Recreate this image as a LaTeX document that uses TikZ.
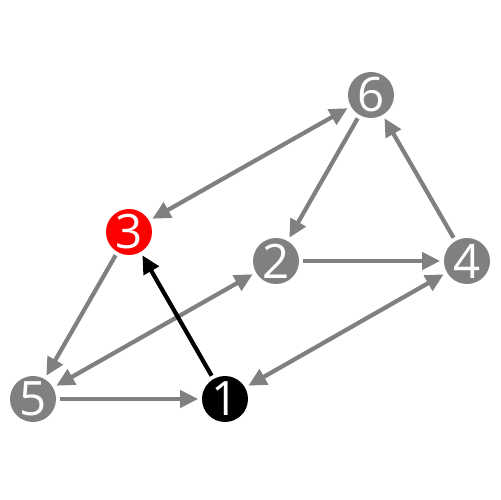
\documentclass[tikz,border=0pt]{standalone}
\usepackage{fontspec}
\setmainfont{Open Sans}
\usetikzlibrary{arrows.meta}

\begin{document}
\begin{tikzpicture}[x=0.02cm, y=-0.02cm]
\tikzstyle{vertex} = [circle, minimum size=0.92cm, inner sep=0pt, fill=gray, text=white, font=\fontsize{27}{27}\selectfont]
\tikzstyle{arrow} = [line width=2.4pt, draw=gray, -{Triangle[length=0.36cm, width=0.34cm]}, shorten >=2pt, shorten <=2pt]
\tikzstyle{both} = [arrow, {Triangle[length=0.36cm, width=0.34cm]}-{Triangle[length=0.36cm, width=0.34cm]}]
\useasboundingbox (0,0) rectangle (500,500);
% Nodes
\node (six) [vertex] at (371,95) {6};
\node (three) [vertex, fill=red] at (129,232) {3};
\node (two) [vertex] at (276,261) {2};
\node (four) [vertex] at (467,261) {4};
\node (five) [vertex] at (33,399) {5};
\node (one) [vertex, fill=black] at (225,399) {1};

% Arrows
\draw [both] (three) -- (six);
\draw [arrow] (six) -- (two);
\draw [arrow] (four) -- (six);
\draw [arrow] (two) -- (four);
\draw [arrow] (three) -- (five);
\draw [both] (five) -- (two);
\draw [arrow] (five) -- (one);
\draw [both] (one) -- (four);
\draw [arrow, draw=black, fill=black] (one) -- (three);

\end{tikzpicture}
\end{document}
